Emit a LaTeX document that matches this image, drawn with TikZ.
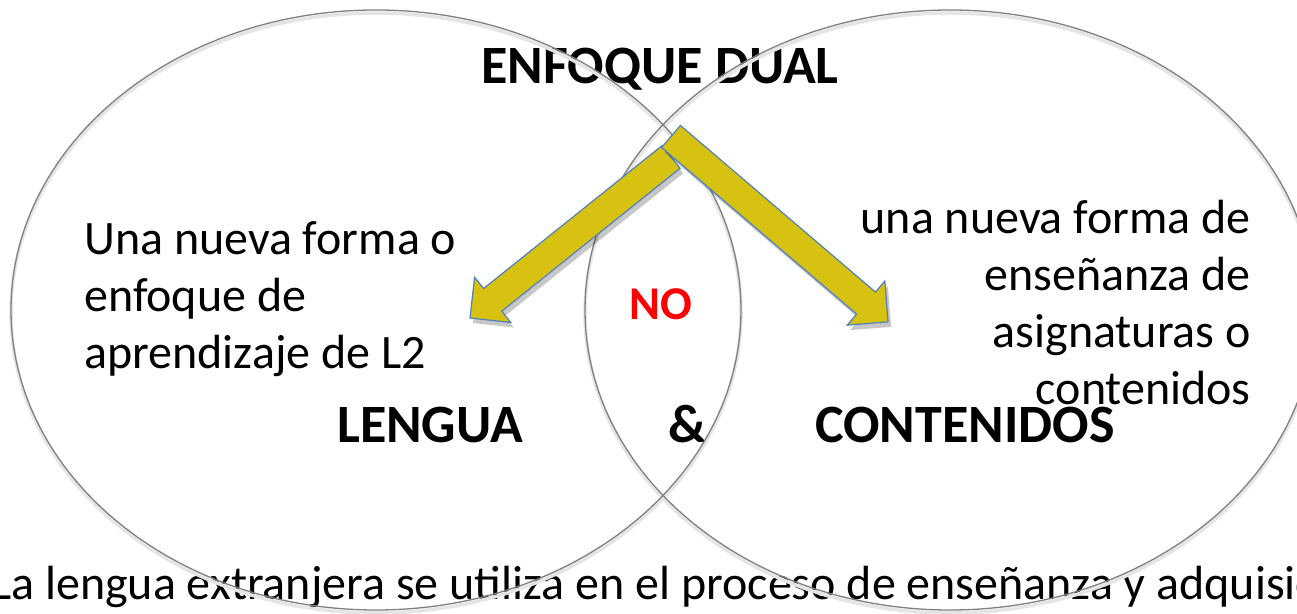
\documentclass[tikz,border=0pt]{standalone}
\usepackage{fontspec}
\setmainfont{Carlito}

\definecolor{arrowfill}{RGB}{215,194,17}
\definecolor{arrowline}{RGB}{79,129,189}
\definecolor{ringline}{RGB}{128,128,128}
\definecolor{notext}{RGB}{255,0,0}

\tikzset{
  ring/.style={draw=ringline, line width=1.3pt},
  ringshade/.style={draw=black!10, line width=3.5pt},
  blockarrow/.style={fill=arrowfill, draw=arrowline, line width=1.2pt, line join=miter},
  arrowshade/.style={fill=black, opacity=0.22},
  bodytext/.style={inner sep=0pt, font=\fontsize{48}{57}\selectfont},
  headtext/.style={inner sep=0pt, font=\fontsize{54}{60}\selectfont\bfseries},
}

\begin{document}
\begin{tikzpicture}[x=1pt, y=1pt]
            \useasboundingbox (0,0) rectangle (1297,613);
            \clip (0,0) rectangle (1297,613);

            % texts
            \node[headtext, anchor=base] (dual) at (660, 529) {ENFOQUE DUAL};
            \node[bodytext, anchor=base west, align=left] (aprend) at (84, 244)
                {Una nueva forma o\\enfoque de\\aprendizaje de L2};
            \node[bodytext, anchor=base east, align=right] (ensen) at (1251, 208)
                {una nueva forma de\\enseñanza de\\asignaturas o\\contenidos};
            \node[headtext, anchor=base, text=notext, font=\fontsize{47}{57}\selectfont\bfseries] (no) at (661, 293) {NO};
            \node[headtext, anchor=base west] (lengua) at (337, 170) {LENGUA};
            \node[headtext, anchor=base] (amp) at (688, 170) {\&};
            \node[headtext, anchor=base west] (conten) at (815, 170) {CONTENIDOS};
            \node[bodytext, anchor=base west] (uso) at (-9, 14)
                {La lengua extranjera se utiliza en el proceso de enseñanza y adquisición};

            % the two circles
            \coordinate (left) at (376, 303);
            \coordinate (right) at (950, 303);
            \draw[ringshade] (376, 300) ellipse [x radius=365pt, y radius=300pt];
            \draw[ringshade] (950, 300) ellipse [x radius=365pt, y radius=300pt];
            \draw[ring] (left) ellipse [x radius=365pt, y radius=300pt];
            \draw[ring] (right) ellipse [x radius=365pt, y radius=300pt];

            % block arrows: back x/y, angle, length
            \foreach \bx/\by/\ang/\len in {671/456/218.7/257.5, 671/476.5/-40.5/285.5} {
                \pgfmathsetmacro{\neck}{\len-29}
                \begin{scope}[shift={(\bx+3, \by-5)}, rotate=\ang]
                    \fill[arrowshade] (0,-14.5) -- (\neck,-14.5) -- (\neck,-29) -- (\len,0)
                        -- (\neck,29) -- (\neck,14.5) -- (0,14.5) -- cycle;
                \end{scope}
                \begin{scope}[shift={(\bx, \by)}, rotate=\ang]
                    \draw[blockarrow] (0,-14.5) -- (\neck,-14.5) -- (\neck,-29) -- (\len,0)
                        -- (\neck,29) -- (\neck,14.5) -- (0,14.5) -- cycle;
                \end{scope}
            }
\end{tikzpicture}
\end{document}
